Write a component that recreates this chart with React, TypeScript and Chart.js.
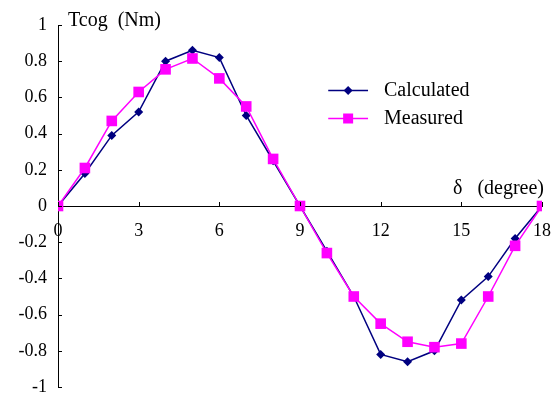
import React, { useEffect, useRef } from "react";
import { Chart, registerables } from "chart.js";

Chart.register(...registerables);

const angles = [0, 1, 2, 3, 4, 5, 6, 7, 8, 9, 10, 11, 12, 13, 14, 15, 16, 17, 18];
const calculated = [0, 0.18, 0.39, 0.52, 0.8, 0.86, 0.82, 0.5, 0.25, 0, -0.25, -0.5, -0.82, -0.86, -0.8, -0.52, -0.39, -0.18, 0];
const measured = [0, 0.21, 0.47, 0.63, 0.755, 0.815, 0.705, 0.55, 0.26, 0, -0.26, -0.5, -0.65, -0.75, -0.78, -0.76, -0.5, -0.22, 0];
const seriesNames = ["Calculated", "Measured"];
const yTitle = "Tcog  (Nm)";
const xTitle = "δ   (degree)";

const FONT = "'Liberation Serif', 'Times New Roman', serif";

const decorPlugin = {
  id: "decor",
  afterDraw(chart: any) {
    const ctx = chart.ctx;
    const xs = chart.scales.x;
    const ys = chart.scales.y;
    const y0 = ys.getPixelForValue(0);
    const xAxis = xs.getPixelForValue(0);
    ctx.save();
    ctx.strokeStyle = "#000";
    ctx.lineWidth = 1;
    ctx.beginPath();
    xs.ticks.forEach((t: any) => {
      const px = Math.round(xs.getPixelForValue(t.value)) + 0.5;
      ctx.moveTo(px, y0);
      ctx.lineTo(px, y0 - 4);
    });
    ys.ticks.forEach((t: any) => {
      const py = Math.round(ys.getPixelForValue(t.value)) + 0.5;
      ctx.moveTo(xAxis, py);
      ctx.lineTo(xAxis + 4, py);
    });
    ctx.stroke();

    // titles
    ctx.fillStyle = "#000";
    ctx.font = `20px ${FONT}`;
    ctx.textBaseline = "middle";
    ctx.textAlign = "left";
    ctx.fillText(yTitle, xAxis + 10, ys.getPixelForValue(1) - 4);
    ctx.textAlign = "right";
    ctx.fillText(xTitle, xs.getPixelForValue(18) + 2, y0 - 17);

    // legend
    const lx0 = xs.getPixelForValue(10.05);
    const lx1 = xs.getPixelForValue(11.53);
    const ly = [ys.getPixelForValue(0.64), ys.getPixelForValue(0.485)];
    chart.data.datasets.forEach((ds: any, i: number) => {
      const yy = Math.round(ly[i]) + 0.5;
      ctx.strokeStyle = ds.borderColor;
      ctx.lineWidth = ds.borderWidth;
      ctx.beginPath();
      ctx.moveTo(lx0, yy);
      ctx.lineTo(lx1, yy);
      ctx.stroke();
      const mx = (lx0 + lx1) / 2;
      ctx.fillStyle = ds.pointBackgroundColor;
      ctx.beginPath();
      if (ds.pointStyle === "rectRot") {
        const r = 4.5;
        ctx.moveTo(mx, yy - r);
        ctx.lineTo(mx + r, yy);
        ctx.lineTo(mx, yy + r);
        ctx.lineTo(mx - r, yy);
        ctx.closePath();
      } else {
        ctx.rect(mx - 5, yy - 5, 10, 10);
      }
      ctx.fill();
      ctx.fillStyle = "#000";
      ctx.textAlign = "left";
      ctx.font = `20px ${FONT}`;
      ctx.fillText(ds.label, lx1 + 16, yy);
    });
    ctx.restore();
  },
};

export default function App() {
  const ref = useRef<HTMLCanvasElement>(null);
  useEffect(() => {
    if (!ref.current) return;
    const chart = new Chart(ref.current, {
      type: "scatter",
      data: {
        datasets: [
          {
            label: seriesNames[0],
            data: angles.map((a, i) => ({ x: a, y: calculated[i] })),
            showLine: true,
            borderColor: "#000080",
            backgroundColor: "#000080",
            pointBackgroundColor: "#000080",
            pointBorderColor: "#000080",
            borderWidth: 1.5,
            pointStyle: "rectRot",
            pointRadius: 4.5,
            pointBorderWidth: 0,
            order: 1,
          },
          {
            label: seriesNames[1],
            data: angles.map((a, i) => ({ x: a, y: measured[i] })),
            showLine: true,
            borderColor: "#FF00FF",
            backgroundColor: "#FF00FF",
            pointBackgroundColor: "#FF00FF",
            pointBorderColor: "#FF00FF",
            borderWidth: 1.5,
            pointStyle: "rect",
            pointRadius: 7.5,
            pointBorderWidth: 0,
            order: 0,
          },
        ],
      },
      options: {
        animation: false,
        responsive: false,
        layout: { padding: { left: 0, top: 25, right: 11, bottom: 9 } },
        plugins: { legend: { display: false }, tooltip: { enabled: false } },
        scales: {
          x: {
            type: "linear",
            min: 0,
            max: 18,
            position: { y: 0 } as any,
            grid: { display: false, drawTicks: false },
            border: { display: true, color: "#000", width: 1 },
            ticks: {
              stepSize: 3,
              padding: 14,
              color: "#000",
              font: { family: FONT, size: 18 },
              maxRotation: 0,
            },
            afterFit: (s: any) => {
              s.paddingLeft = 0;
              s.paddingRight = 0;
            },
          },
          y: {
            type: "linear",
            min: -1,
            max: 1,
            position: "left",
            grid: { display: false, drawTicks: false },
            border: { display: true, color: "#000", width: 1 },
            ticks: {
              stepSize: 0.2,
              padding: 11,
              color: "#000",
              font: { family: FONT, size: 18 },
              callback: (v: any) => String(Number(Number(v).toFixed(1))),
            },
            afterFit: (s: any) => {
              s.width = 58;
              s.paddingTop = 0;
              s.paddingBottom = 0;
            },
          },
        },
      },
      plugins: [decorPlugin],
    });
    return () => chart.destroy();
  }, []);
  return (
    <div style={{ position: "absolute", left: 0, top: 0, width: 553, height: 396, background: "#fff" }}>
      <canvas ref={ref} width={553} height={396} />
    </div>
  );
}
